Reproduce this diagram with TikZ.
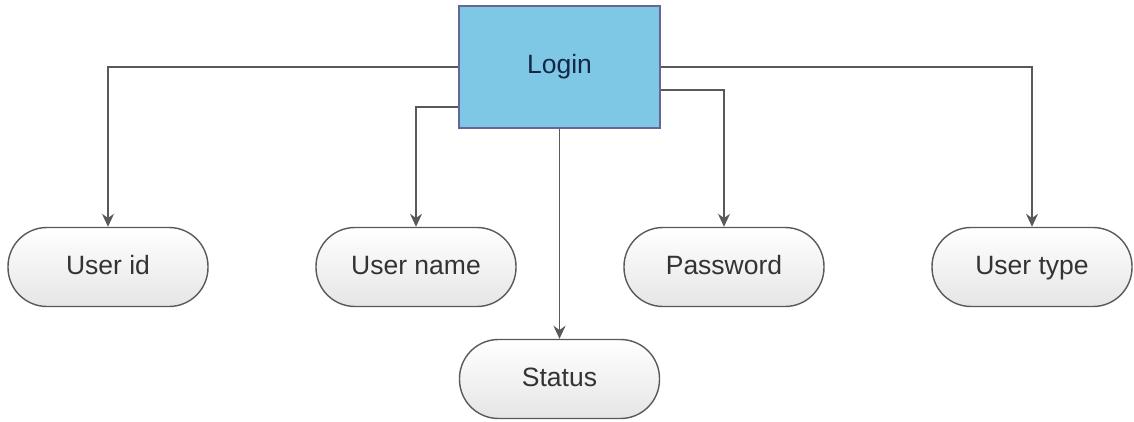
\documentclass[tikz,border=0pt]{standalone}
\usepackage{fontspec}
\setmainfont{Liberation Sans}
\usetikzlibrary{arrows.meta}
\begin{document}
\begin{tikzpicture}[x=1pt,y=-1pt,
  txt/.style={font=\fontsize{26.5}{30}\selectfont, text=black!80, text height=19pt, text depth=5pt},
  loginbox/.style={txt, draw=black!70!blue!60, line width=1.5pt, fill={rgb,255:red,126;green,200;blue,230}, minimum width=201pt, minimum height=122pt, inner sep=0pt, text={rgb,255:red,20;green,40;blue,70}},
  pill/.style={txt, draw=black!65, line width=1.4pt, rounded corners=39pt, top color=white, bottom color=black!10, minimum width=200pt, minimum height=79pt, inner sep=0pt},
  arr/.style={draw=black!65, line width=1.5pt, -{Stealth[length=13pt,width=12pt]}}
]
\useasboundingbox (0,0) rectangle (1134,422);
\fill[white] (0,0) rectangle (1134,422);
\node[loginbox] (login) at (559.5,67) {Login};
\node[pill] (uid) at (108,267) {User id};
\node[pill] (uname) at (416,267) {User name};
\node[pill] (pw) at (724,267) {Password};
\node[pill] (utype) at (1032,267) {User type};
\node[pill] (status) at (559.5,379) {Status};
\draw[arr] (login.west) -| (uid.north);
\draw[arr] ([yshift=-40pt]login.west) -| (uname.north);
\draw[arr] (login.south) -- (status.north);
\draw[arr] ([yshift=-23pt]login.east) -| (pw.north);
\draw[arr] (login.east) -| (utype.north);
\end{tikzpicture}
\end{document}
